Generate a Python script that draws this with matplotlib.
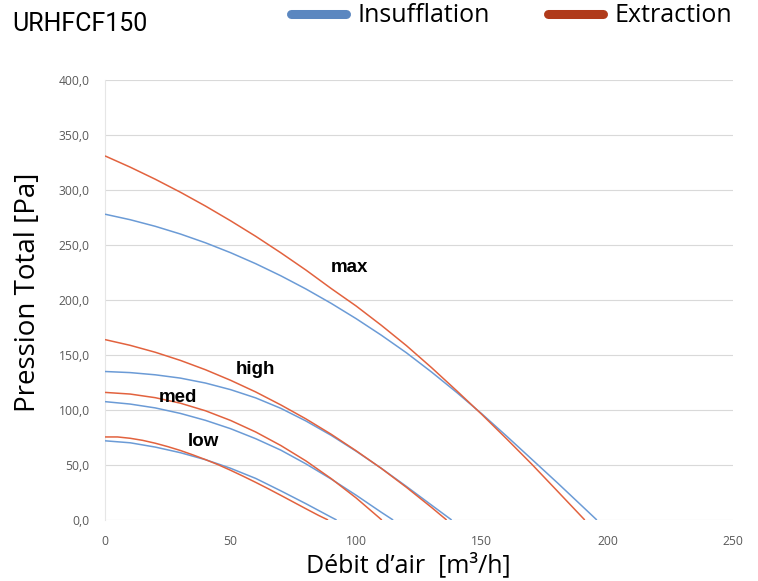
import matplotlib
matplotlib.use("Agg")
import matplotlib.pyplot as plt
from matplotlib.lines import Line2D
from matplotlib.ticker import FuncFormatter

# ---- data ----
max_ins_x = [0, 10, 20, 30, 40, 50, 60, 70, 80, 90, 100, 110, 120, 130, 140, 150, 160, 170, 180, 190, 195.8]
max_ins_y = [278, 273, 267, 260, 252, 243, 233, 222, 210, 197, 183, 168, 152, 134.5, 116, 96.5, 76, 55, 34, 12.5, 0]
max_ext_x = [0, 10, 20, 30, 40, 50, 60, 70, 80, 90, 100, 110, 120, 130, 140, 150, 160, 170, 180, 191]
max_ext_y = [331, 320.8, 309.8, 298, 285.4, 272, 257.9, 242.9, 227.2, 210.5, 194.5, 177, 158.5, 138.5, 117.5, 96, 73.5, 50.5, 26.5, 0]

high_ins_x = [0, 10, 20, 30, 40, 50, 60, 70, 80, 90, 100, 110, 120, 130, 138]
high_ins_y = [135, 134, 132, 129, 124.5, 118.5, 111, 101.5, 90, 77, 62.5, 47, 30.5, 13.5, 0]
high_ext_x = [0, 10, 20, 30, 40, 50, 60, 70, 80, 90, 100, 110, 120, 130, 136]
high_ext_y = [164, 158.8, 152.5, 145.1, 136.6, 127.0, 116.4, 104.6, 91.9, 78.0, 62.9, 46.9, 29.7, 11.4, 0]

med_ins_x = [0, 10, 20, 30, 40, 50, 60, 70, 80, 90, 100, 110, 114.7]
med_ins_y = [107.6, 105.4, 101.9, 96.9, 90.6, 83, 73.9, 63.5, 51, 37.3, 22.5, 7, 0]
med_ext_x = [0, 10, 20, 30, 40, 50, 60, 70, 80, 90, 100, 110.2]
med_ext_y = [116, 114.5, 111.2, 106.2, 99.3, 90.5, 80, 67.7, 53.7, 37.7, 20, 0]

low_ins_x = [0, 10, 20, 30, 40, 45, 50, 60, 70, 80, 90, 92.2]
low_ins_y = [72, 70.2, 66.3, 61.2, 54.8, 51, 47, 37.8, 26.5, 14.8, 2.6, 0]
low_ext_x = [0, 5, 10, 15, 20, 25, 30, 35, 40, 45, 50, 55, 60, 65, 70, 75, 80, 85, 88.8]
low_ext_y = [75.5, 75.5, 74.3, 72.4, 69.8, 66.7, 63.2, 59.2, 54.9, 50.3, 45.2, 39.8, 34.2, 28.4, 22.4, 16.3, 10.2, 4.2, 0]

curve_labels = ["max", "high", "med", "low"]
label_x = [97.5, 59.7, 29, 39]
label_y = [230, 136.4, 111, 71]

x_ticks = [0, 50, 100, 150, 200, 250]
y_ticks = [0, 50, 100, 150, 200, 250, 300, 350, 400]

title = "URHFCF150"
series_names = ["Insufflation", "Extraction"]
xlabel = "Débit d\u2019air  [m\u00b3/h]"
ylabel = "Pression Total [Pa]"

# ---- style ----
BLUE = "#6b9bd6"
RED = "#e2623e"
BLUE_LEG = "#5b87c0"
RED_LEG = "#b03a1a"
TICK_COL = "#595959"

W, H = 758, 581
fig = plt.figure(figsize=(W / 100, H / 100), dpi=100)
ax = fig.add_axes([105 / W, (H - 520) / H, 628 / W, 440 / H])

pairs = [
    (max_ins_x, max_ins_y, max_ext_x, max_ext_y),
    (high_ins_x, high_ins_y, high_ext_x, high_ext_y),
    (med_ins_x, med_ins_y, med_ext_x, med_ext_y),
    (low_ins_x, low_ins_y, low_ext_x, low_ext_y),
]
for bx, by, rx, ry in pairs:
    ax.plot(bx, by, color=BLUE, lw=1.1, solid_capstyle="butt", solid_joinstyle="round", zorder=3)
    ax.plot(rx, ry, color=RED, lw=1.1, solid_capstyle="butt", solid_joinstyle="round", zorder=3)

for t, lx, ly in zip(curve_labels, label_x, label_y):
    ax.text(lx, ly, t, ha="center", va="center", fontsize=13.5, fontweight="bold",
            family="Liberation Sans", color="black", zorder=4)

ax.set_xlim(0, 250)
ax.set_ylim(0, 400)
ax.set_xticks(x_ticks)
ax.set_yticks(y_ticks)
ax.yaxis.set_major_formatter(FuncFormatter(lambda v, p: f"{v:.1f}".replace(".", ",")))
ax.xaxis.set_major_formatter(FuncFormatter(lambda v, p: f"{int(v)}"))
ax.grid(axis="y", color="#d9d9d9", lw=0.8)
ax.set_axisbelow(True)
for s in ["top", "right", "bottom"]:
    ax.spines[s].set_visible(False)
ax.spines["left"].set_color("#e6e6e6")
ax.spines["left"].set_linewidth(0.8)
ax.tick_params(axis="both", length=0, labelsize=8.7, labelcolor=TICK_COL)
ax.tick_params(axis="y", pad=11)
ax.tick_params(axis="x", pad=11)
for lab in ax.get_xticklabels() + ax.get_yticklabels():
    lab.set_family("Open Sans")

fig.text(408 / W, 1 - 565 / H, xlabel, fontsize=18, family="Open Sans", ha="center", va="center")
fig.text(28 / W, 1 - 292 / H, ylabel, fontsize=20, family="Open Sans", ha="center", va="center",
         rotation=90)

fig.text(12 / W, 1 - 24 / H, title, fontsize=18, family="Roboto", ha="left", va="center")

handles = [Line2D([0], [0], color=BLUE_LEG, lw=6.5, solid_capstyle="round"),
           Line2D([0], [0], color=RED_LEG, lw=6.5, solid_capstyle="round")]
fig.legend(handles, series_names, loc="center left", bbox_to_anchor=(291 / W, 1 - 16 / H),
           ncol=2, frameon=False, handlelength=2.2, handletextpad=0.48,
           columnspacing=2.3, borderpad=0, borderaxespad=0, prop={"family": "Open Sans", "size": 18})

fig.savefig("out.png", dpi=100)
